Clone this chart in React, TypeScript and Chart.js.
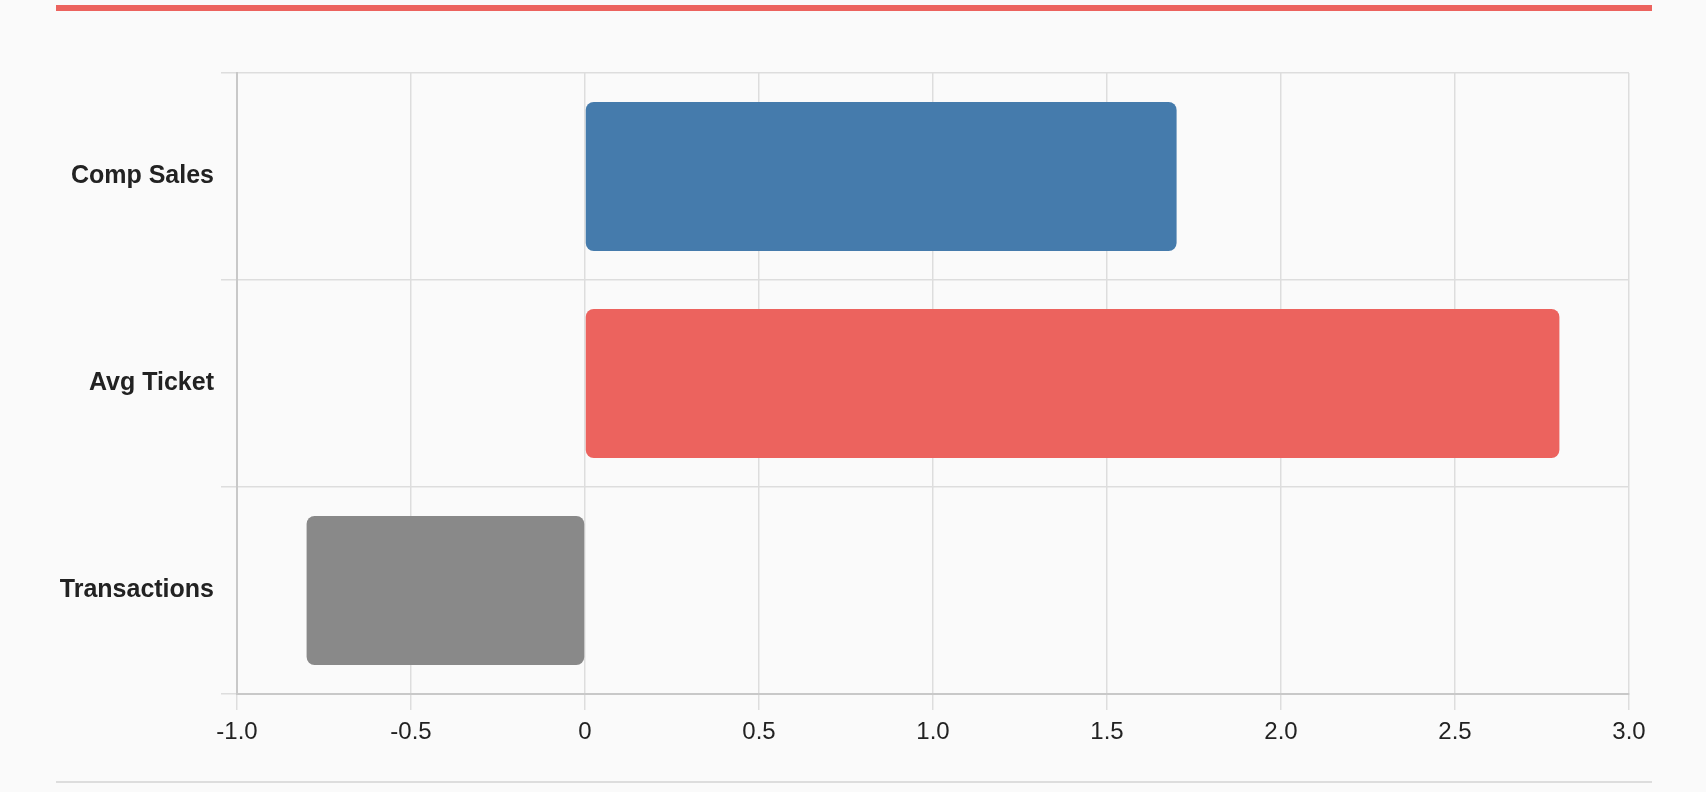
import React, { useEffect, useRef } from "react";
import { Chart, registerables } from "chart.js";

Chart.register(...registerables);

const categories = ["Comp Sales", "Avg Ticket", "Transactions"];
const values = [1.7, 2.8, -0.8];
const barColors = ["#457BAC", "#EC635E", "#898989"];
const xMin = -1;
const xMax = 3;
const xStep = 0.5;

const W = 1706;
const H = 792;

export default function App() {
  const ref = useRef<HTMLCanvasElement | null>(null);

  useEffect(() => {
    document.body.style.margin = "0";
    document.body.style.background = "#fafafa";
    const canvas = ref.current;
    if (!canvas) return;
    const chart = new Chart(canvas, {
      type: "bar",
      data: {
        labels: categories,
        datasets: [
          {
            data: values,
            backgroundColor: barColors,
            borderRadius: 8,
            borderSkipped: false,
            borderWidth: 0,
          },
        ],
      },
      options: {
        indexAxis: "y",
        animation: false,
        responsive: false,
        maintainAspectRatio: false,
        devicePixelRatio: 1,
        layout: { padding: { left: 56, right: W - 1629, top: 73, bottom: 38 } },
        plugins: { legend: { display: false }, tooltip: { enabled: false } },
        scales: {
          y: {
            type: "category",
            afterFit: (s: any) => {
              s.width = 237 - 56;
            },
            grid: { color: "#dddddd", lineWidth: 1.5, tickLength: 16, offset: true },
            border: { color: "#c8c8c8", width: 2 },
            ticks: {
              color: "#222222",
              padding: 7,
              font: { family: "'Liberation Sans', Arial, Helvetica, sans-serif", size: 25, weight: "bold" },
            },
          },
          x: {
            type: "linear",
            min: xMin,
            max: xMax,
            afterFit: (s: any) => {
              s.height = 60;
            },
            grid: { color: "#dddddd", lineWidth: 1.5, tickLength: 16 },
            border: { color: "#c8c8c8", width: 2 },
            ticks: {
              stepSize: xStep,
              color: "#222222",
              padding: 8,
              font: { family: "'Liberation Sans', Arial, Helvetica, sans-serif", size: 24 },
              callback: (v: any) => (Number(v) === 0 ? "0" : Number(v).toFixed(1)),
            },
          },
        },
      },
    });
    return () => chart.destroy();
  }, []);

  return (
    <div style={{ position: "relative", width: W, height: H, background: "#fafafa", overflow: "hidden" }}>
      <div style={{ position: "absolute", left: 56, top: 5, width: 1652 - 56, height: 6, background: "#EC635E" }} />
      <canvas ref={ref} width={W} height={H} style={{ position: "absolute", left: 0, top: 0, width: W, height: H }} />
      <div style={{ position: "absolute", left: 56, top: 781, width: 1652 - 56, height: 2, background: "#dddddd" }} />
    </div>
  );
}
